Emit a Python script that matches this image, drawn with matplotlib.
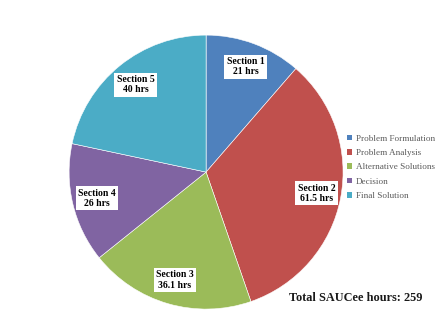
import numpy as np
import matplotlib
matplotlib.use("Agg")
import matplotlib.pyplot as plt
from matplotlib.patches import Patch

sections = ["Section 1", "Section 2", "Section 3", "Section 4", "Section 5"]
hours = [21, 61.5, 36.1, 26, 40]
hour_labels = ["21", "61.5", "36.1", "26", "40"]
stages = ["Problem Formulation", "Problem Analysis", "Alternative Solutions",
          "Decision", "Final Solution"]
colors = ["#4F81BD", "#C0504D", "#9BBB59", "#8064A2", "#4BACC6"]
total_text = "Total SAUCee hours: 259"

fig = plt.figure(figsize=(4.48, 3.25), dpi=100)
fig.patch.set_facecolor("white")
ax = fig.add_axes([0.154, 0.049, 0.612, 0.843])

wedges, _ = ax.pie(hours, colors=colors, startangle=90, counterclock=False,
                   wedgeprops=dict(edgecolor="white", linewidth=0.4))
ax.set_xlim(-1.0, 1.0)
ax.set_ylim(-1.0, 1.0)
ax.set_aspect("equal")

for w, name, h in zip(wedges, sections, hour_labels):
    mid = np.deg2rad((w.theta1 + w.theta2) / 2)
    r = 0.82
    ax.text(r * np.cos(mid), r * np.sin(mid), f"{name}\n{h} hrs",
            ha="center", va="center", fontsize=7, fontweight="bold",
            family="Liberation Serif", linespacing=1.15,
            bbox=dict(boxstyle="square,pad=0.25", facecolor="white",
                      edgecolor="none"))

handles = [Patch(facecolor=c, edgecolor="none") for c in colors]
leg = fig.legend(handles, stages, loc="upper left",
                 bbox_to_anchor=(0.765, 0.6), frameon=False,
                 prop=dict(family="Liberation Serif", size=6.6),
                 handlelength=0.55, handleheight=0.55, handletextpad=0.35,
                 labelspacing=0.7, borderpad=0)
for t in leg.get_texts():
    t.set_color("#595959")

fig.text(0.645, 0.083, total_text, ha="left", va="center", fontsize=8.8,
         fontweight="bold", family="Liberation Serif", color="#1a1a1a")

fig.savefig("out.png", dpi=100, facecolor="white")
